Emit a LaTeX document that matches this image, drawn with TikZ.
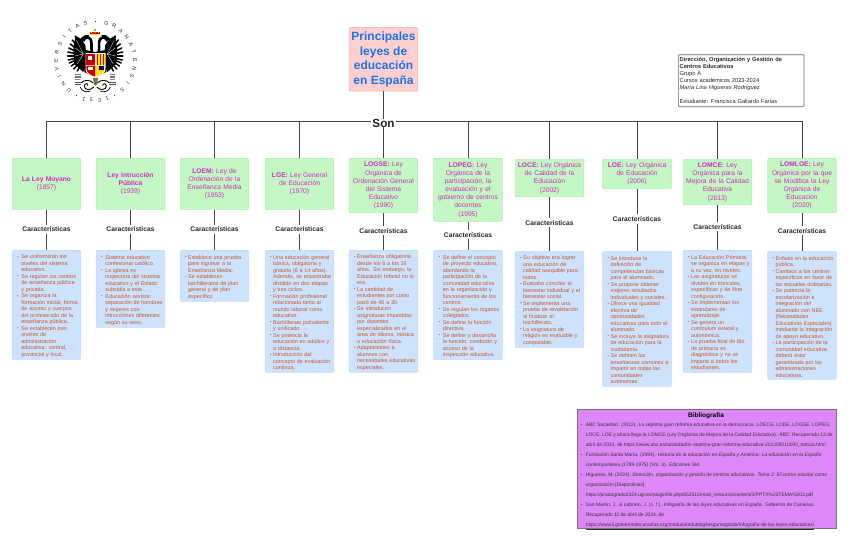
\documentclass[tikz,border=0pt]{standalone}
\usepackage{fontspec}
\setmainfont{Liberation Sans}
\definecolor{gfill}{HTML}{C3F7C3}
\definecolor{gline}{HTML}{B2EFB2}
\definecolor{bfill}{HTML}{CCE2FF}
\definecolor{bline}{HTML}{C4DCFC}
\definecolor{orangetx}{HTML}{C9541E}
\definecolor{magtx}{HTML}{D02CC0}
\definecolor{edge}{HTML}{444444}
\definecolor{tfill}{HTML}{FFCFCF}
\definecolor{tline}{HTML}{FFB8B8}
\definecolor{tblue}{HTML}{1A73E8}
\definecolor{pfill}{HTML}{DD88F8}
\def\hng{3pt}
\newcommand\bu[1]{\par\noindent\hbox{\makebox[\hng][l]{\raisebox{.5pt}{\fontsize{4.2}{5}\selectfont\textbullet}}#1}}
\newcommand\cu[1]{\par\noindent\hbox{\hspace{\hng}#1}}
\newcommand\mt[1]{\textbf{#1}}
\tikzset{
 x=1pt,y=-1pt,
 conn/.style={draw=edge,line width=.8pt},
 law/.style={draw=gline,fill=gfill,line width=.7pt,rounded corners=1pt,text=magtx,align=center,inner sep=1pt,text width=66pt,font=\fontsize{6.7}{8.15}\selectfont,minimum width=68.5pt},
 feat/.style={font=\bfseries\fontsize{6.7}{8}\selectfont,text=black!85,inner sep=2pt},
 list/.style={draw=bline,fill=bfill,line width=.7pt,rounded corners=1pt,text=orangetx,inner xsep=5pt,inner ysep=0pt,text width=58.7pt,font=\fontsize{5.4}{6.5}\selectfont},
 crest/.style={fill=black,draw=none},
 ring/.style={font=\fontsize{5.4}{6}\selectfont,inner sep=0pt,text=black!85},
}
\newcommand\law[5]{\node[law,minimum height=#4-#3,anchor=north] (m#1) at (#2,#3) {#5};}
\newcommand\lst[5]{\node[list,minimum height=#4-#3,anchor=north] (b#1) at (#2,#3) {#5};}
\begin{document}
\begin{tikzpicture}
\useasboundingbox (0,0) rectangle (848,541);
% seal lettering
\foreach \l [count=\n from 0] in {U,N,I,V,E,R,S,I,T,A,S}{
 \pgfmathsetmacro\a{228-12.3*\n}
 \node[ring,rotate=\a-90] at ({95.5+39.5*cos(\a)},{61-39.5*sin(\a)}) {\l};}
\foreach \l [count=\n from 0] in {G,R,A,N,A,T,E,N,S,I,S}{
 \pgfmathsetmacro\a{74-12.1*\n}
 \node[ring,rotate=\a-90] at ({95.5+39.5*cos(\a)},{61-39.5*sin(\a)}) {\l};}
\foreach \l/\a in {1/253,5/264,3/276,1/287}{
 \node[ring,rotate=\a-270] at ({95.5+39.5*cos(\a)},{61-39.5*sin(\a)}) {\l};}
\foreach \a in {90,241,299}{\fill[black!85] ({95.5+39.5*cos(\a)},{61-39.5*sin(\a)}) circle (.6);}
% eagle, both halves
\foreach \s in {1,-1}{
\begin{scope}[shift={(95.3,0)},xscale=\s]
 \foreach \tx/\ty in {20/36,23/40,25/44,26.5/48,27.5/52,27.5/56,27/60,26/63,24/66,21.5/69,18/71}{
  \draw[black,line width=1.5pt,line cap=round] (10,56) -- (\tx,\ty);}
 \fill[crest] (10,45) .. controls (13,40) and (16,37) .. (20,36) -- (22,50) -- (21,64) -- (12,72) -- (8,62) -- cycle;
 \fill[crest] (0,52) -- (10,50) -- (11,72) -- (0,78) -- cycle;
 \foreach \tx/\ty in {19/40,20/48,20.5/56,18/64}{\draw[white,line width=.3pt] (12,54) -- (\tx,\ty);}
 \draw[black,line width=2.6pt] (3,54) .. controls (5,47) and (2.5,42) .. (5,39) .. controls (7,36.5) and (12,37) .. (12,41);
 \fill[crest] (6,35.2) .. controls (9,34.5) and (12,35) .. (13,37) -- (16.5,40) -- (13,40.5) -- (11,41.5) -- cycle;
 \draw[black,line width=.9pt] (1.5,87) .. controls (5,91) and (11,90) .. (11,86) .. controls (11,83) and (7,83) .. (7.5,85.5);
 \draw[black,line width=.9pt] (2,83) .. controls (6,79) and (12,80) .. (14,83);
 \draw[black,line width=.7pt] (5,91) .. controls (9,93) and (14,91) .. (15,87);
 \foreach \yy in {74.5,76,77.5}{\draw[black!55,line width=.5pt] (14.5,\yy) -- (20,\yy);}
 \foreach \yy in {82,84.5}{\draw[black!70,line width=.7pt] (14,\yy) -- (20.5,\yy);}
 \fill[black!45] (15,79) rectangle (20,80);
\end{scope}}
% crown
\fill[red!85!black] (90,31.5) rectangle (100,34.5);
\fill[yellow!90!orange] (90,34) rectangle (100,35);
\fill[orange] (95,30) circle (1.3);
\foreach \xx in {91.5,95,98.5}{\fill[yellow!90!orange] (\xx,32.5) circle (.6);}
% shield
\fill[white] (85.5,53) -- (105.5,53) -- (105.5,68) .. controls (105.5,75) and (99,77.5) .. (95.5,78) .. controls (92,77.5) and (85.5,75) .. (85.5,68) -- cycle;
\fill[red!80!black] (86.3,54) rectangle (95.3,65);
\fill[white] (88,56) rectangle (92,60);
\fill[yellow!85!orange] (95.7,54) rectangle (104.7,65);
\foreach \xx in {97,100,103}{\fill[red!80!black] (\xx,54) rectangle (\xx+1,65);}
\fill[red!80!black] (86.3,65.5) -- (95.3,65.5) -- (95.3,76.5) .. controls (91,76) and (86.3,73) .. (86.3,68) -- cycle;
\fill[white] (88,67) rectangle (93,70);
\fill[yellow!85!orange] (95.7,65.5) -- (104.7,65.5) -- (104.7,68) .. controls (104.7,73) and (100,76) .. (95.7,76.5) -- cycle;
\fill[blue!55!black] (99,66) rectangle (104,70);
\fill[black!60!yellow] (93,78) -- (98,78) -- (97,84) -- (94,84) -- cycle;
\fill[black!70!yellow] (95.5,84) circle (1.6);
% diagram
\node[draw=tline,fill=tfill,line width=.7pt,rounded corners=1pt,text=tblue,align=center,inner sep=1pt,minimum width=68.5pt,minimum height=63.5pt,anchor=north,font=\bfseries\fontsize{12}{14.7}\selectfont] (title) at (383.5,27.2) {Principales\\leyes de\\educación\\en España};
\law{1}{46.5}{158.2}{209}{\mt{La Ley Moyano}\\(1857)}
\law{2}{130.5}{158.2}{209}{\mt{Ley Intrucción}\\\mt{Pública}\\(1939)}
\law{3}{214.5}{158.2}{209}{\mt{LOEM:} Ley de\\Ordenación de la\\Enseñanza Media\\(1953)}
\law{4}{299.5}{158.2}{209}{\mt{LGE:} Ley General\\de Educación\\(1970)}
\law{5}{383.5}{158.2}{212.3}{\mt{LOGSE:} Ley\\Orgánica de\\Ordenación General\\del Sistema\\Educativo\\(1990)}
\law{6}{468}{158.2}{221}{\mt{LOPEG:} Ley\\Orgánica de la\\participación, la\\evaluación y el\\gobierno de centros\\docentes\\(1995)}
\law{7}{549.5}{159}{196.5}{\mt{LOCE:} Ley Orgánica\\de Calidad de la\\Educación\\(2002)}
\law{8}{637}{159}{188.3}{\mt{LOE:} Ley Orgánica\\de Educación\\(2006)}
\law{9}{717.5}{159}{204.5}{\mt{LOMCE:} Ley\\Orgánica para la\\Mejora de la Calidad\\Educativa\\(2013)}
\law{10}{802}{158.2}{212.3}{\mt{LOMLOE:} Ley\\Orgánica por la que\\se Modifica la Ley\\Orgánica de\\Educación\\(2020)}
\lst{1}{46.5}{250.2}{359}{\def\hng{4.3pt}\bu{Se uniformizan los}\cu{niveles del sistema}\cu{educativo.}\bu{Se regulan los centros}\cu{de enseñanza pública}\cu{y privada.}\bu{Se organiza la}\cu{formación inicial, forma}\cu{de acceso y cuerpos}\cu{del profesorado de la}\cu{enseñanza pública.}\bu{Se establecen tres}\cu{niveles de}\cu{administración}\cu{educativa: central,}\cu{provincial y local.}}
\lst{2}{130.5}{250.2}{327}{\def\hng{4.3pt}\bu{Sistema educativo}\cu{confesional católico.}\bu{La iglesia es}\cu{inspectora del sistema}\cu{educativo y el Estado}\cu{subsidia a este.}\bu{Educación sexista:}\cu{separación de hombres}\cu{y mujeres con}\cu{intrucciones diferentes}\cu{según su sexo.}}
\lst{3}{214.5}{250.2}{301}{\bu{Establece una prueba}\cu{para ingresar a la}\cu{Enseñanza Media.}\bu{Se establecen}\cu{bachilleratos de plan}\cu{general y de plan}\cu{específico.}}
\lst{4}{299.5}{250.2}{372}{\bu{Una educación general}\cu{básica, obligatoria y}\cu{gratuita (6 a 14 años).}\cu{Además, se encontraba}\cu{dividido en dos etapas}\cu{y tres ciclos.}\bu{Formación profesional}\cu{relacionada tanto al}\cu{mundo laboral como}\cu{educativo.}\bu{Bachillerato polivalente}\cu{y unificado.}\bu{Se potencia la}\cu{educación en adultos y}\cu{a distancia.}\bu{Introducción del}\cu{concepto de evaluación}\cu{continua.}}
\lst{5}{383.5}{250.2}{372}{\bu{Enseñanza obligatoria}\cu{desde los 6 a los 16}\cu{años. Sin embargo, la}\cu{Educación Infantil no lo}\cu{era.}\bu{La cantidad de}\cu{estudiantes por curso}\cu{pasó de 40 a 30.}\bu{Se introducen}\cu{asignaturas impartidas}\cu{por docentes}\cu{especializados en el}\cu{área de idioma, música}\cu{o educación física.}\bu{Adaptaciones a}\cu{alumnos con}\cu{necesidades educativas}\cu{especiales.}}
\lst{6}{468}{250.2}{359.5}{\def\hng{4.3pt}\bu{Se define el concepto}\cu{de proyecto educativo,}\cu{abordando la}\cu{participación de la}\cu{comunidad educativa}\cu{en la organización y}\cu{funcionamiento de los}\cu{centros.}\bu{Se regulan los órganos}\cu{colegiados.}\bu{Se define la función}\cu{directiva.}\bu{Se define y desarrolla}\cu{la función, condición y}\cu{acceso de la}\cu{inspección educativa.}}
\lst{7}{549.5}{251}{347}{\bu{Su objetivo era lograr}\cu{una educación de}\cu{calidad asequible para}\cu{todos.}\bu{Buscaba conciliar el}\cu{bienestar individual y el}\cu{bienestar social.}\bu{Se implementa una}\cu{prueba de revalidación}\cu{al finalizar el}\cu{bachillerato.}\bu{La asignatura de}\cu{religión es evaluable y}\cu{computable.}}
\lst{8}{637}{251}{386}{\bu{Se introduce la}\cu{definición de}\cu{competencias básicas}\cu{para el alumnado.}\bu{Se propone obtener}\cu{mejores resultados}\cu{individuales y sociales.}\bu{Ofrece una igualdad}\cu{efectiva de}\cu{oportunidades}\cu{educativas para todo el}\cu{alumnado.}\bu{Se incluye la asignatura}\cu{de educación para la}\cu{ciudadanía.}\bu{Se definen las}\cu{enseñanzas comunes a}\cu{impartir en todas las}\cu{comunidades}\cu{autónomas.}}
\lst{9}{717.5}{250.2}{372}{\bu{La Educación Primaria}\cu{se organiza en etapas y}\cu{a su vez, en niveles.}\bu{Las asignaturas se}\cu{dividen en troncales,}\cu{específicas y de libre}\cu{configuración.}\bu{Se implementan los}\cu{estándares de}\cu{aprendizaje.}\bu{Se genera un}\cu{currículum estatal y}\cu{autonómico.}\bu{La prueba final de 6to}\cu{de primaria es}\cu{diagnóstica y no se}\cu{imparte a todos los}\cu{estudiantes.}}
\lst{10}{802}{251}{379}{\bu{Énfasis en la educación}\cu{pública.}\bu{Cambios a los centros}\cu{específicos en favor de}\cu{las escuelas ordinarias.}\bu{Se potencia la}\cu{escolarización e}\cu{integración del}\cu{alumnado con NEE}\cu{(Necesidades}\cu{Educativas Especiales)}\cu{mediante la integración}\cu{de apoyo educativo.}\bu{La participación de la}\cu{comunidad educativa}\cu{deberá estar}\cu{garantizada por las}\cu{administraciones}\cu{educativas.}}
\foreach \i/\cx/\cy in {1/46.5/229.3,2/130.5/229.3,3/214.5/229.3,4/299.5/229.3,5/383.5/230.8,6/468/234.8,7/549.5/222.8,8/637/219,9/717.5/226.8,10/802/230.8}{
 \node[feat] (c\i) at (\cx,\cy) {Características};
 \draw[conn] (m\i.south) -- (c\i.north);
 \draw[conn] (c\i.south) -- (b\i.north);
}
\coordinate (bus) at (383.5,121);
\foreach \i in {1,2,3,4,6,7,8,9,10}{\draw[conn] (bus) -| (m\i.north);}
\node[fill=white,inner xsep=1pt,inner ysep=0pt,font=\bfseries\fontsize{11.7}{12}\selectfont,text=black!85] (son) at (383.5,123) {Son};
\draw[conn] (title.south) -- (son.north);
\draw[conn] (son.south) -- (m5.north);
\node[draw=black!60,line width=.7pt,rounded corners=1pt,anchor=north west,inner xsep=1.3pt,inner ysep=1pt,text width=123pt,minimum height=52pt,text=black!85,font=\fontsize{5.7}{7}\selectfont] (info) at (678,54.3) {\textbf{Dirección, Organización y Gestión de}\\\textbf{Centros Educativos}\\Grupo A\\Cursos académicos 2023-2024\\\textit{María Lina Higueras Rodríguez}\\[7pt]Estudiante: Francisca Gallardo Farías};
\node[draw=black!55,fill=pfill,line width=.7pt,anchor=north west,inner xsep=0pt,inner ysep=0pt,text width=259.5pt,minimum height=119pt] (bib) at (576.5,409) {};
\node[anchor=north,inner sep=0pt,font=\bfseries\fontsize{6.5}{7}\selectfont] (bibt) at (706,412.3) {Bibliografía};
\node[anchor=north west,inner sep=0pt,text=black!80,font=\fontsize{4.93}{10}\selectfont] (bibx) at (581,422.5) {\begin{minipage}[t]{250pt}\baselineskip=10pt
\def\bb#1{\par\noindent\hbox{\makebox[4.7pt][l]{\fontsize{4.2}{4}\selectfont\textbullet}#1}}\def\cc#1{\par\noindent\hbox{\hspace{4.7pt}#1}}
\bb{ABC Sociedad. (2012). La séptima gran reforma educativa en la democracia: LOECE, LODE, LOGSE, LOPEG,}
\cc{LOCE, LOE y ahora llega la LOMCE (Ley Orgánica de Mejora de la Calidad Educativa). \textit{ABC}. Recuperado 13 de}
\cc{abril de 2024, de https://www.abc.es/sociedad/rc-septima-gran-reforma-educativa-201209210000\_noticia.html}
\bb{Fundación Santa María. (1994). \textit{Historia de la educación en España y América: La educación en la España}}
\cc{\textit{contemporánea (1789-1975)} (Vol. 3). Ediciones SM.}
\bb{Higueras, M. (2024). \textit{Dirección, organización y gestión de centros educativos. Tema 2: El centro escolar como}}
\cc{\textit{organización} [Diapositivas].}
\cc{https://pradogrado2324.ugr.es/pluginfile.php/852515/mod\_resource/content/3/PPTX\%20TEMA\%202.pdf}
\bb{San Martín, J., \& Lebrero, J. (s. f.). \textit{Infografía de las leyes educativas en España}. Gobierno de Canarias.}
\cc{Recuperado 11 de abril de 2024, de}
\cc{\underline{https://www3.gobiernodecanarias.org/medusa/edublog/iesguntagorda/infografia-de-las-leyes-educativas/}}
\end{minipage}};
\end{tikzpicture}
\end{document}
